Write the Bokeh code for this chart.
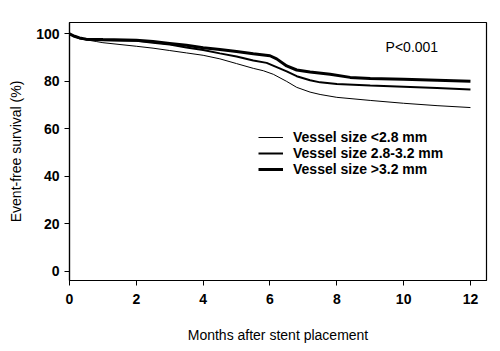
from bokeh.plotting import figure
from bokeh.models import Range1d, Legend, LegendItem, Label, FixedTicker
from bokeh.embed import file_html
from bokeh.resources import INLINE

# Data
t_large = [0, 0.15, 0.3, 0.5, 1.0, 2.0, 2.5, 3.0, 3.5, 4.0, 4.5, 5.0, 5.5, 6.0, 6.2, 6.5, 6.8, 7.2, 7.8, 8.4, 9.0, 10.0, 11.0, 12.0]
s_large = [100, 99, 98.3, 97.8, 97.6, 97.3, 96.8, 96, 95.2, 94.2, 93.4, 92.6, 91.6, 90.8, 89.5, 86.5, 84.8, 84, 83, 81.7, 81.2, 80.9, 80.5, 80.1]

t_mid = [0, 0.15, 0.3, 0.5, 1.0, 2.0, 2.5, 3.0, 3.5, 4.0, 4.5, 5.0, 5.5, 5.9, 6.2, 6.5, 6.8, 7.2, 7.5, 8.0, 9.0, 10.0, 11.0, 12.0]
s_mid = [100, 99, 98.2, 97.6, 97.3, 97.1, 96.3, 95.5, 94.3, 93.2, 91.8, 90.5, 88.8, 87.8, 86, 84.2, 82.2, 80.5, 79.6, 78.9, 78.3, 77.8, 77.2, 76.6]

t_small = [0, 0.2, 0.5, 0.8, 1.0, 2.0, 2.5, 3.0, 3.5, 4.0, 4.5, 5.0, 5.5, 5.8, 6.1, 6.5, 6.8, 7.2, 7.5, 8.0, 9.0, 10.0, 11.0, 12.0]
s_small = [100, 98.5, 97.5, 96.8, 96.3, 94.8, 94, 93, 92, 91, 89.5, 87.5, 85.5, 84.5, 83, 80, 77.5, 75.5, 74.5, 73.3, 72, 70.8, 69.8, 69]

labels = ["Vessel size <2.8 mm", "Vessel size 2.8-3.2 mm", "Vessel size >3.2 mm"]
x_ticks = [0, 2, 4, 6, 8, 10, 12]
y_ticks = [0, 20, 40, 60, 80, 100]

FONT = "Liberation Sans"

p = figure(width=500, height=351, output_backend="svg", toolbar_location=None,
           x_range=Range1d(0, 12.48), y_range=Range1d(-3.8, 104.8),
           min_border_left=69, min_border_right=14, min_border_top=22, min_border_bottom=71)
p.grid.visible = False
p.background_fill_color = "white"
p.outline_line_color = "black"
p.outline_line_width = 1.2

r_small = p.line(t_small, s_small, line_color="black", line_width=1)
r_mid = p.line(t_mid, s_mid, line_color="black", line_width=2)
r_large = p.line(t_large, s_large, line_color="black", line_width=3)

for ax in (p.xaxis[0], p.yaxis[0]):
    ax.axis_line_color = "black"
    ax.axis_line_width = 1.2
    ax.major_tick_line_color = "black"
    ax.major_tick_out = 5
    ax.major_tick_in = 0
    ax.minor_tick_line_color = None
    ax.major_label_text_font = FONT
    ax.major_label_text_font_style = "bold"
    ax.major_label_text_font_size = "14px"
    ax.major_label_text_color = "black"
    ax.axis_label_text_font = FONT
    ax.axis_label_text_font_style = "normal"
    ax.axis_label_text_font_size = "14px"
    ax.axis_label_text_color = "black"

p.xaxis.ticker = FixedTicker(ticks=x_ticks)
p.yaxis.ticker = FixedTicker(ticks=y_ticks)
p.xaxis.axis_label = "Months after stent placement"
p.yaxis.axis_label = "Event-free survival (%)"
p.xaxis.major_label_standoff = 8
p.xaxis.axis_label_standoff = 20
p.yaxis.major_label_standoff = 5
p.yaxis.axis_label_standoff = 9

legend = Legend(items=[LegendItem(label=labels[0], renderers=[r_small]),
                       LegendItem(label=labels[1], renderers=[r_mid]),
                       LegendItem(label=labels[2], renderers=[r_large])],
                location=(189, 103), padding=0, margin=0, spacing=0,
                glyph_width=25, glyph_height=14, label_height=14, label_standoff=10,
                background_fill_alpha=0, border_line_color=None,
                label_text_font=FONT, label_text_font_style="bold",
                label_text_font_size="14px", label_text_color="black")
p.add_layout(legend)

p.add_layout(Label(x=9.46, y=94.3, text="P<0.001", text_font=FONT,
                   text_font_size="14px", text_baseline="middle", text_color="black"))

open("out.html", "w").write(file_html(p, INLINE))
